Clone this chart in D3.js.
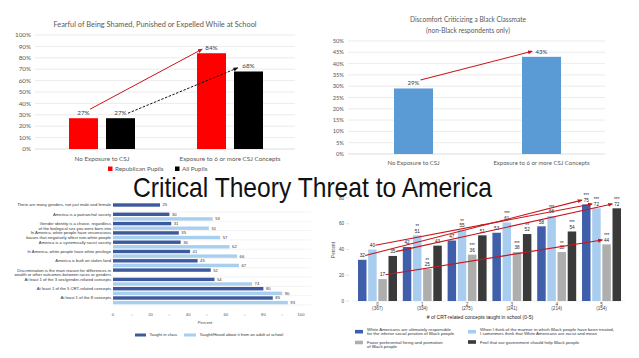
<!DOCTYPE html>
<html><head><meta charset="utf-8">
<script src="https://cdn.jsdelivr.net/npm/d3@7"></script>
<style>html,body{margin:0;padding:0;background:#fff;}svg{display:block;}</style>
</head><body><svg id="c" width="639" height="358"></svg>
<script>
// ---------- DATA ----------
// Chart 1 (top-left)
const c1Title = "Fearful of Being Shamed, Punished or Expelled While at School";
const c1Categories = ["No Exposure to CSJ", "Exposure to 6 or more CSJ Concepts"];
const c1Series = ["Republican Pupils", "All Pupils"];
const c1Republican = [27, 84];
const c1All = [27, 68];
const c1Ticks = [0, 10, 20, 30, 40, 50, 60, 70, 80, 90, 100];

// Chart 2 (top-right)
const c2Title = ["Discomfort Criticizing a Black Classmate", "(non-Black respondents only)"];
const c2Categories = ["No Exposure to CSJ", "Exposure to 6 or more CSJ Concepts"];
const c2Values = [29, 43];
const c2Ticks = [0, 5, 10, 15, 20, 25, 30, 35, 40, 45, 50];

// Chart 3 (bottom-left)
const c3Categories = [
  ["There are many genders, not just male and female"],
  ["America is a patriarchal society"],
  ["Gender identity is a choice, regardless", "of the biological sex you were born into"],
  ["In America, white people have unconscious", "biases that negatively affect non-white people"],
  ["America is a systemically racist society"],
  ["In America, white people have white privilege"],
  ["America is built on stolen land"],
  ["Discrimination is the main reason for differences in", "wealth or other outcomes between races or genders"],
  ["At least 1 of the 3 sex/gender-related concepts"],
  ["At least 1 of the 5 CRT-related concepts"],
  ["At least 1 of the 8 concepts"]
];
const c3Taught = [25, 30, 31, 35, 36, 41, 45, 52, 54, 80, 85];
const c3Heard = [null, 53, 51, 57, 62, 66, 67, null, 74, 90, 93];
const c3Ticks = [0, 20, 40, 60, 80, 100];
const c3Legend = ["Taught in class", "Taught/Heard about it from an adult at school"];

// Chart 4 (bottom-right)
const c4Groups = ["0", "1", "2", "3", "4", "5"];
const c4Counts = ["(367)", "(334)", "(275)", "(241)", "(214)", "(154)"];
const c4Responsible = [32, 42, 47, 53, 58, 75];
const c4Racist = [40, 51, 55, 61, 66, 72];
const c4Hiring = [17, 25, 36, 38, 38, 44];
const c4Help = [35, 43, 51, 52, 54, 72];
const c4StarsResponsible = ["", "", "", "", "", "***"];
const c4StarsRacist = ["", "**", "**", "***", "***", "***"];
const c4StarsHiring = ["", "**", "***", "***", "**", "***"];
const c4StarsHelp = ["", "", "**", "**", "***", "***"];
const c4Ticks = [0, 20, 40, 60, 80];
const c4Legend = [
  ["White Americans are ultimately responsible", "for the inferior social position of Black people"],
  ["When I think of the manner in which Black people have been treated,", "I sometimes think that White Americans are racist and mean"],
  ["Favor preferential hiring and promotion", "of Black people"],
  ["Feel that our government should help Black people"]
];
const mainTitle = "Critical Theory Threat to America";

// ---------- DRAW ----------
const svg = d3.select("#c");
svg.append("rect").attr("width", 639).attr("height", 358).attr("fill", "#fff");
const defs = svg.append("defs");
function marker(id, color, w) {
  defs.append("marker").attr("id", id).attr("viewBox", "0 0 10 10")
    .attr("refX", 8).attr("refY", 5).attr("markerWidth", w).attr("markerHeight", w)
    .attr("orient", "auto").attr("markerUnits", "userSpaceOnUse")
    .append("path").attr("d", "M0,1L10,5L0,9z").attr("fill", color);
}
marker("arRed", "#c8161d", 5);
marker("arBlack", "#111", 5);
marker("arRed4", "#c8161d", 5);

// ===== Chart 1 =====
{
  const F = "Lato, 'Open Sans', sans-serif";
  const g = svg.append("g").attr("font-family", F);
  const y = d3.scaleLinear().domain([0, 100]).range([149, 35]);
  const x = d3.scaleBand().domain(c1Categories).range([38, 294]);
  const xi = d3.scaleBand().domain(c1Series).range([-33, 33]).paddingInner(8 / 37);
  const cx = (s, c) => x(c) + x.bandwidth() / 2 + xi(s) + xi.bandwidth() / 2;
  g.append("text").attr("x", 155).attr("y", 24).attr("dy", "0.35em").attr("text-anchor", "middle")
    .attr("font-size", 7.4).attr("fill", "#595959").text(c1Title);
  g.selectAll(".gl").data(c1Ticks).join("line")
    .attr("x1", 35).attr("x2", 295).attr("y1", d => y(d)).attr("y2", d => y(d))
    .attr("stroke", d => d === 0 ? "#cfcfcf" : "#e4e4e4").attr("stroke-width", 0.7);
  g.selectAll(".tl").data(c1Ticks).join("text")
    .attr("x", 31).attr("y", d => y(d)).attr("dy", "0.35em").attr("text-anchor", "end")
    .attr("font-size", 6.3).attr("fill", "#595959").text(d => d + "%");
  const series = [[c1Series[0], c1Republican, "#ff0000"], [c1Series[1], c1All, "#000"]];
  series.forEach(([s, vals, col]) => {
    g.selectAll(null).data(vals).join("rect")
      .attr("x", (d, i) => x(c1Categories[i]) + x.bandwidth() / 2 + xi(s))
      .attr("width", xi.bandwidth())
      .attr("y", d => y(d)).attr("height", d => y(0) - y(d)).attr("fill", col);
    g.selectAll(null).data(vals).join("text")
      .attr("x", (d, i) => cx(s, c1Categories[i])).attr("y", d => y(d) - 3)
      .attr("text-anchor", "middle").attr("font-size", 6.3).attr("fill", "#404040").text(d => d + "%");
  });
  g.selectAll(".cl").data(c1Categories).join("text")
    .attr("x", d => x(d) + x.bandwidth() / 2).attr("y", 158.5).attr("dy", "0.35em")
    .attr("text-anchor", "middle").attr("font-size", 6.3).attr("fill", "#595959").text(d => d);
  // arrows
  g.append("line")
    .attr("x1", cx(c1Series[0], c1Categories[0]) + 6.5).attr("y1", y(c1Republican[0]) - 9)
    .attr("x2", cx(c1Series[0], c1Categories[1]) - 9.5).attr("y2", y(c1Republican[1]) - 4)
    .attr("stroke", "#c8161d").attr("stroke-width", 1).attr("marker-end", "url(#arRed)");
  g.append("line")
    .attr("x1", cx(c1Series[1], c1Categories[0]) + 7.5).attr("y1", y(c1All[0]) - 5)
    .attr("x2", cx(c1Series[1], c1Categories[1]) - 11).attr("y2", y(c1All[1]) - 3.5)
    .attr("stroke", "#111").attr("stroke-width", 1).attr("stroke-dasharray", "2.5,1.5")
    .attr("marker-end", "url(#arBlack)");
  // legend
  const leg = [[c1Series[0], "#ff0000", 108], [c1Series[1], "#000", 175]];
  leg.forEach(([t, col, lx]) => {
    g.append("rect").attr("x", lx).attr("y", 166.5).attr("width", 4.5).attr("height", 4.5).attr("fill", col);
    g.append("text").attr("x", lx + 7).attr("y", 169).attr("dy", "0.35em")
      .attr("font-size", 6.3).attr("fill", "#595959").text(t);
  });
}

// ===== Chart 2 =====
{
  const F = "Lato, 'Open Sans', sans-serif";
  const g = svg.append("g").attr("font-family", F);
  const y = d3.scaleLinear().domain([0, 50]).range([154, 41]);
  const x = d3.scaleBand().domain(c2Categories).range([349.5, 605.5]);
  const bw = 39;
  const cx = c => x(c) + x.bandwidth() / 2;
  c2Title.forEach((t, i) => g.append("text").attr("x", 468).attr("y", 20 + i * 10.5).attr("dy", "0.35em")
    .attr("text-anchor", "middle").attr("font-size", 6.6).attr("fill", "#595959").text(t));
  g.selectAll(".gl").data(c2Ticks).join("line")
    .attr("x1", 348).attr("x2", 605).attr("y1", d => y(d)).attr("y2", d => y(d))
    .attr("stroke", d => d === 0 ? "#cfcfcf" : "#e4e4e4").attr("stroke-width", 0.7);
  g.selectAll(".tl").data(c2Ticks).join("text")
    .attr("x", 344).attr("y", d => y(d)).attr("dy", "0.35em").attr("text-anchor", "end")
    .attr("font-size", 5.8).attr("fill", "#595959").text(d => d + "%");
  g.selectAll(".b").data(c2Values).join("rect")
    .attr("x", (d, i) => cx(c2Categories[i]) - bw / 2).attr("width", bw)
    .attr("y", d => y(d)).attr("height", d => y(0) - y(d)).attr("fill", "#5b9bd5");
  g.selectAll(".bl").data(c2Values).join("text")
    .attr("x", (d, i) => cx(c2Categories[i])).attr("y", d => y(d) - 3)
    .attr("text-anchor", "middle").attr("font-size", 6).attr("fill", "#404040").text(d => d + "%");
  g.selectAll(".cl").data(c2Categories).join("text")
    .attr("x", d => cx(d)).attr("y", 163).attr("dy", "0.35em")
    .attr("text-anchor", "middle").attr("font-size", 6).attr("fill", "#595959").text(d => d);
  g.append("line")
    .attr("x1", cx(c2Categories[0]) + 7).attr("y1", y(c2Values[0]) - 8.5)
    .attr("x2", cx(c2Categories[1]) - 9.5).attr("y2", y(c2Values[1]) - 5.5)
    .attr("stroke", "#c8161d").attr("stroke-width", 1.1).attr("marker-end", "url(#arRed)");
}

// ===== Chart 3 =====
{
  const F = "'Liberation Sans', Arial, sans-serif";
  const g = svg.append("g").attr("font-family", F);
  const x = d3.scaleLinear().domain([0, 100]).range([113, 301]);
  const y = d3.scaleBand().domain(d3.range(c3Categories.length)).range([202.7, 305]);
  const dark = "#3d5a9f", light = "#a9cfee";
  // row separators
  g.selectAll(".sep").data(d3.range(c3Categories.length)).join("line")
    .attr("x1", 113).attr("x2", 311).attr("y1", d => y(d) + y.step()).attr("y2", d => y(d) + y.step())
    .attr("stroke", "#e6e6e6").attr("stroke-width", 0.5);
  g.selectAll(".bd").data(c3Taught).join("rect")
    .attr("x", x(0)).attr("y", (d, i) => y(i) + 0.6).attr("height", 3.4)
    .attr("width", d => x(d) - x(0)).attr("fill", dark);
  g.selectAll(".bl").data(c3Heard.map((d, i) => [d, i]).filter(d => d[0] !== null)).join("rect")
    .attr("x", x(0)).attr("y", d => y(d[1]) + 5.2).attr("height", 3.4)
    .attr("width", d => x(d[0]) - x(0)).attr("fill", light);
  g.selectAll(".vd").data(c3Taught).join("text")
    .attr("x", d => x(d) + 2.5).attr("y", (d, i) => y(i) + 2.3).attr("dy", "0.35em")
    .attr("font-size", 4.2).attr("fill", "#333").text(d => d);
  g.selectAll(".vl").data(c3Heard.map((d, i) => [d, i]).filter(d => d[0] !== null)).join("text")
    .attr("x", d => x(d[0]) + 2.5).attr("y", d => y(d[1]) + 6.9).attr("dy", "0.35em")
    .attr("font-size", 4.2).attr("fill", "#333").text(d => d[0]);
  c3Categories.forEach((lines, i) => {
    lines.forEach((t, j) => g.append("text").attr("x", 111).attr("y", y(i) + 2.3 + j * 4.6)
      .attr("dy", "0.35em").attr("text-anchor", "end").attr("font-size", 4.2).attr("fill", "#333").text(t));
  });
  g.selectAll(".xt").data(c3Ticks).join("text")
    .attr("x", d => x(d)).attr("y", 315).attr("dy", "0.35em").attr("text-anchor", "middle")
    .attr("font-size", 4.2).attr("fill", "#555").text(d => d);
  g.selectAll(".mt").data(c3Ticks.slice(1).map(d => d - 10)).join("line")
    .attr("x1", d => x(d) - 1).attr("x2", d => x(d) + 1).attr("y1", 315).attr("y2", 315)
    .attr("stroke", "#bbb").attr("stroke-width", 0.6);
  g.append("text").attr("x", 205).attr("y", 323).attr("dy", "0.35em").attr("text-anchor", "middle")
    .attr("font-size", 4.2).attr("fill", "#444").text("Percent");
  [[c3Legend[0], dark, 135, 11], [c3Legend[1], light, 184, 12]].forEach(([t, col, lx, w]) => {
    g.append("rect").attr("x", lx).attr("y", 333.5).attr("width", w).attr("height", 3).attr("fill", col);
    g.append("text").attr("x", lx + w + 3.5).attr("y", 335).attr("dy", "0.35em")
      .attr("font-size", 4.2).attr("fill", "#333").text(t);
  });
}

// ===== Chart 4 =====
{
  const F = "'Liberation Sans', Arial, sans-serif";
  const g = svg.append("g").attr("font-family", F);
  const y = d3.scaleLinear().domain([0, 80]).range([301, 198]);
  const xg = d3.scaleBand().domain(c4Groups).range([358, 621]).paddingInner(0.13);
  const seriesNames = ["responsible", "racist", "hiring", "help"];
  const xs = d3.scaleBand().domain(seriesNames).range([0, xg.bandwidth()]).paddingInner(0.164);
  const series = [
    ["responsible", c4Responsible, "#3f5fab", c4StarsResponsible],
    ["racist", c4Racist, "#a8cdee", c4StarsRacist],
    ["hiring", c4Hiring, "#aeaeae", c4StarsHiring],
    ["help", c4Help, "#3a3a3a", c4StarsHelp]
  ];
  const cx = (s, gi) => xg(c4Groups[gi]) + xs(s) + xs.bandwidth() / 2;
  const labY = v => y(v) - 4.3;
  g.selectAll(".yt").data(c4Ticks).join("text")
    .attr("x", 344).attr("y", d => y(d)).attr("dy", "0.35em").attr("text-anchor", "end")
    .attr("font-size", 4.6).attr("fill", "#444").text(d => d);
  g.selectAll(".ytm").data(c4Ticks).join("line")
    .attr("x1", 346).attr("x2", 349).attr("y1", d => y(d)).attr("y2", d => y(d))
    .attr("stroke", "#ccc").attr("stroke-width", 0.6);
  g.append("text").attr("transform", "translate(333,250) rotate(-90)").attr("dy", "0.35em")
    .attr("text-anchor", "middle").attr("font-size", 4.6).attr("fill", "#444").text("Percent");
  g.append("line").attr("x1", 352).attr("x2", 625).attr("y1", y(0)).attr("y2", y(0))
    .attr("stroke", "#ddd").attr("stroke-width", 0.5);
  series.forEach(([s, vals, col, stars]) => {
    g.selectAll(null).data(vals).join("rect")
      .attr("x", (d, i) => xg(c4Groups[i]) + xs(s)).attr("width", xs.bandwidth())
      .attr("y", d => y(d)).attr("height", d => y(0) - y(d)).attr("fill", col);
    g.selectAll(null).data(vals).join("text")
      .attr("x", (d, i) => cx(s, i)).attr("y", d => labY(d)).attr("dy", "0.35em")
      .attr("text-anchor", "middle").attr("font-size", 4.6).attr("fill", "#222").text(d => d);
    g.selectAll(null).data(vals).join("text")
      .attr("x", (d, i) => cx(s, i)).attr("y", d => labY(d) - 4.5).attr("dy", "0.35em")
      .attr("text-anchor", "middle").attr("font-size", 4.6).attr("fill", "#222").text((d, i) => stars[i]);
  });
  g.selectAll(".gx").data(c4Groups).join("text")
    .attr("x", d => xg(d) + xg.bandwidth() / 2).attr("y", 304).attr("dy", "0.35em")
    .attr("text-anchor", "middle").attr("font-size", 4.6).attr("fill", "#444").text(d => d);
  g.selectAll(".gc").data(c4Counts).join("text")
    .attr("x", (d, i) => xg(c4Groups[i]) + xg.bandwidth() / 2).attr("y", 308.8).attr("dy", "0.35em")
    .attr("text-anchor", "middle").attr("font-size", 4.6).attr("fill", "#444").text(d => d);
  g.append("text").attr("x", 480).attr("y", 317).attr("dy", "0.35em").attr("text-anchor", "middle")
    .attr("font-size", 5).attr("fill", "#222").text("# of CRT-related concepts taught in school (0-5)");
  // arrows (same series, group 0 -> group 5)
  series.forEach(([s, vals]) => {
    g.append("line")
      .attr("x1", cx(s, 0) + 3).attr("y1", labY(vals[0]))
      .attr("x2", cx(s, 5) - 4.5).attr("y2", labY(vals[5]))
      .attr("stroke", "#c8161d").attr("stroke-width", 1.1).attr("marker-end", "url(#arRed4)");
  });
  // legend
  const legPos = [[355, 331.7], [468, 331.7], [355, 342.5], [468, 342]];
  c4Legend.forEach((lines, i) => {
    const [lx, ly] = legPos[i];
    g.append("rect").attr("x", lx).attr("y", ly - 1.8).attr("width", 8).attr("height", 3.6).attr("fill", series[i][2]);
    const off = lines.length === 2 ? (i === 2 ? 0 : -2.1) : 0;
    lines.forEach((t, j) => g.append("text").attr("x", lx + 12).attr("y", ly + off + j * 4.3).attr("dy", "0.35em")
      .attr("font-size", 4.4).attr("fill", "#333").text(t));
  });
}

// ===== Main title =====
svg.append("text").attr("x", 133).attr("y", 197)
  .attr("font-family", "'Liberation Sans', Arial, sans-serif").attr("font-size", 28)
  .attr("fill", "#111").attr("textLength", 359).attr("lengthAdjust", "spacingAndGlyphs")
  .text(mainTitle);
</script></body></html>
